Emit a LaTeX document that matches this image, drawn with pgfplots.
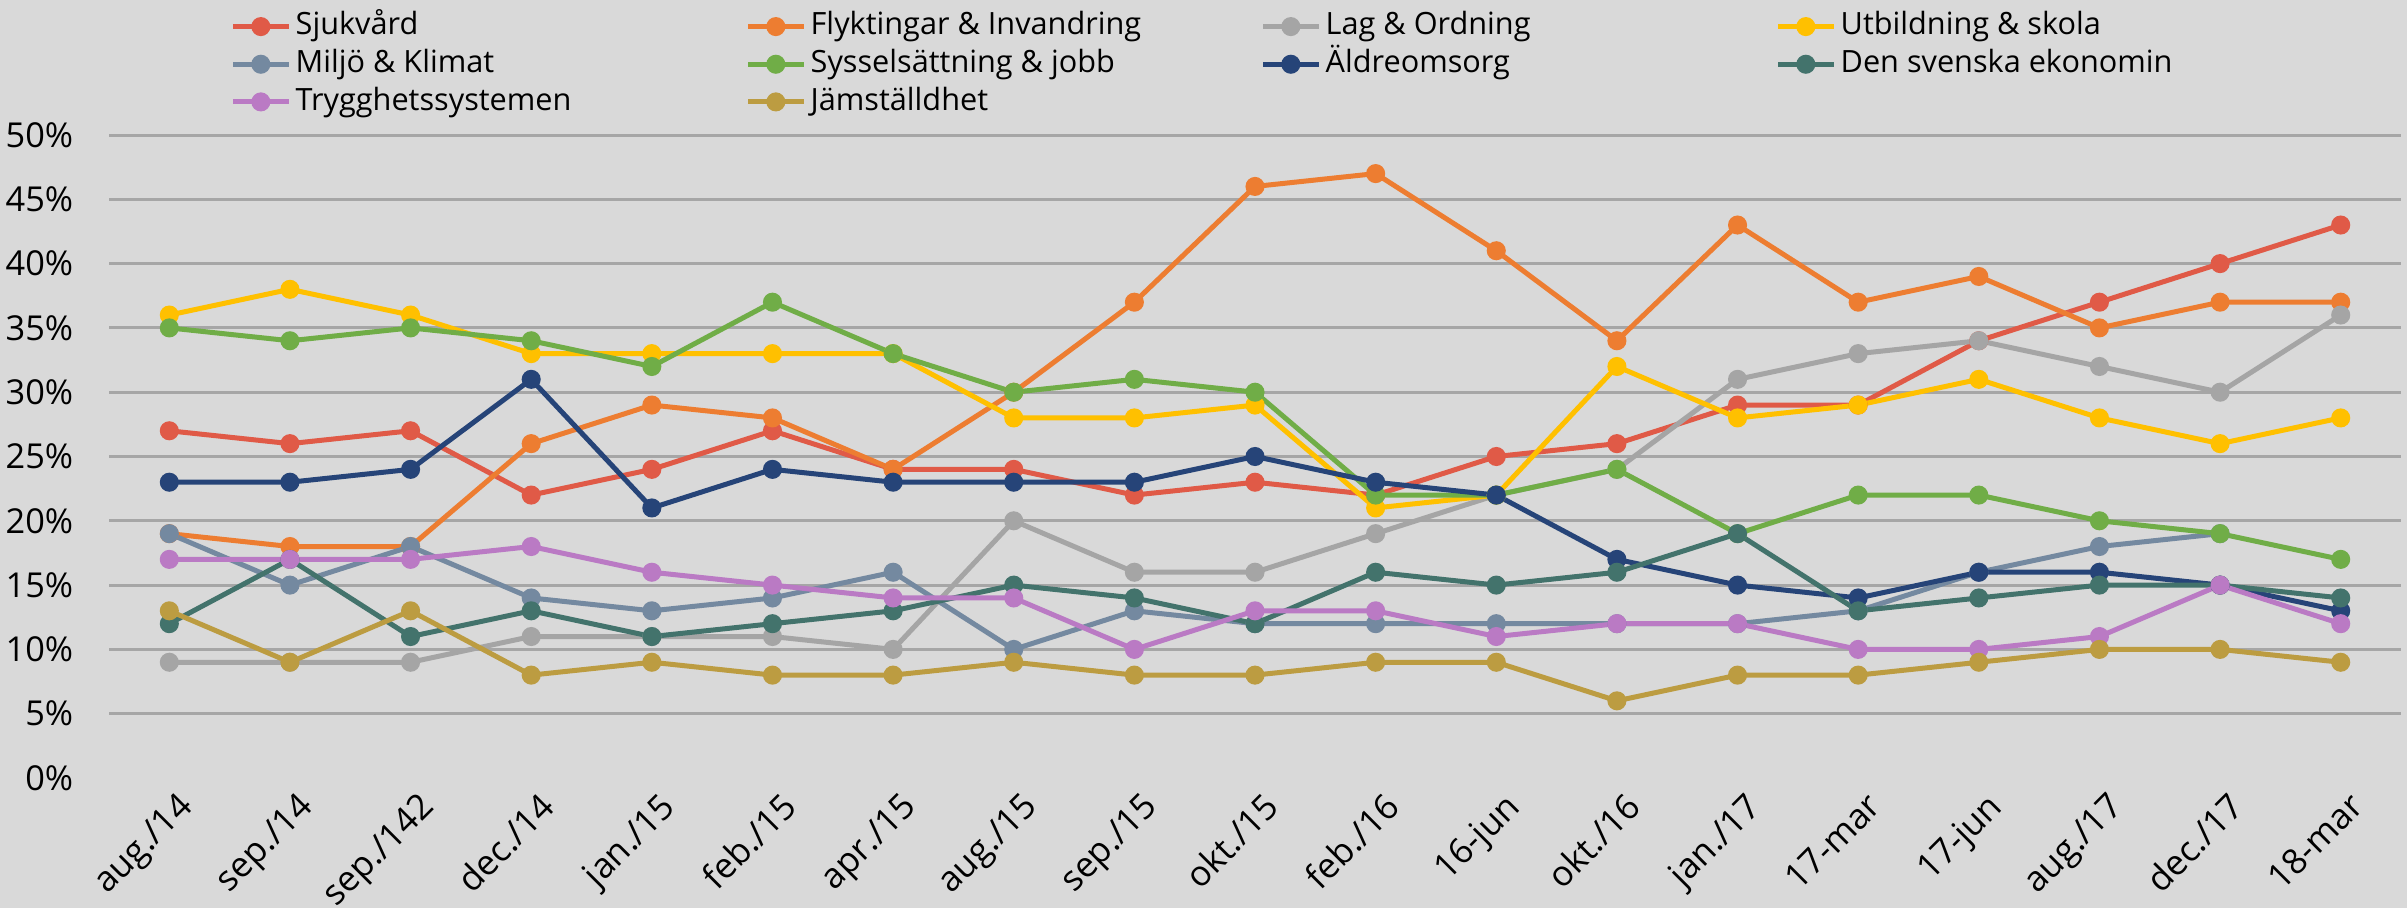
\documentclass[border=0pt]{standalone}
\usepackage{fontspec}
\setmainfont{Open Sans}
\usepackage{pgfplots}
\pgfplotsset{compat=1.18}
\usepackage{pgfplotstable}
\definecolor{bg}{HTML}{D9D9D9}
\definecolor{gridc}{HTML}{A6A6A6}
\definecolor{cSj}{HTML}{E05A47}
\definecolor{cFl}{HTML}{ED7D31}
\definecolor{cLag}{HTML}{A5A5A5}
\definecolor{cUtb}{HTML}{FFC000}
\definecolor{cMil}{HTML}{7489A0}
\definecolor{cSys}{HTML}{70AD47}
\definecolor{cAld}{HTML}{264478}
\definecolor{cEko}{HTML}{43736C}
\definecolor{cTry}{HTML}{BA7AC4}
\definecolor{cJam}{HTML}{BC9C41}
\pgfplotstableread{
x sj fl lag utb mil sys ald eko try jam
0 27 19 9 36 19 35 23 12 17 13
1 26 18 9 38 15 34 23 17 17 9
2 27 18 9 36 18 35 24 11 17 13
3 22 26 11 33 14 34 31 13 18 8
4 24 29 11 33 13 32 21 11 16 9
5 27 28 11 33 14 37 24 12 15 8
6 24 24 10 33 16 33 23 13 14 8
7 24 30 20 28 10 30 23 15 14 9
8 22 37 16 28 13 31 23 14 10 8
9 23 46 16 29 12 30 25 12 13 8
10 22 47 19 21 12 22 23 16 13 9
11 25 41 22 22 12 22 22 15 11 9
12 26 34 24 32 12 24 17 16 12 6
13 29 43 31 28 12 19 15 19 12 8
14 29 37 33 29 13 22 14 13 10 8
15 34 39 34 31 16 22 16 14 10 9
16 37 35 32 28 18 20 16 15 11 10
17 40 37 30 26 19 19 15 15 15 10
18 43 37 36 28 nan 17 13 14 12 9
}\data
\newcommand{\legtxt}[1]{\makebox[135pt][l]{#1}}
\begin{document}
\begin{tikzpicture}[x=1pt,y=1pt]
\fill[bg] (0,0) rectangle (722.1,272.4);
\path[use as bounding box] (0,0) rectangle (722.1,272.4);
\begin{axis}[
  at={(32.7pt,39pt)}, anchor=south west,
  scale only axis, width=687.6pt, height=192.9pt,
  xmin=-0.5, xmax=18.5, ymin=0, ymax=50,
  axis line style={draw=none},
  major tick length=0pt,
  xtick={0,...,18},
  xticklabels={aug./14,sep./14,sep./142,dec./14,jan./15,feb./15,apr./15,aug./15,sep./15,okt./15,feb./16,16-jun,okt./16,jan./17,17-mar,17-jun,aug./17,dec./17,18-mar},
  xticklabel style={rotate=45, anchor=north east, inner sep=1pt, yshift=-3pt, font=\fontsize{10.5}{12}\selectfont},
  ytick={0,5,...,50},
  yticklabel={\pgfmathprintnumber{\tick}\%},
  /pgf/number format/assume math mode=true,
  yticklabel style={font=\fontsize{10.3}{12}\selectfont, xshift=-7.2pt},
  extra y ticks={5,10,...,50}, extra y tick labels={},
  extra y tick style={grid=major, major grid style={gridc, line width=0.9pt}},
  every axis plot/.append style={line width=1.5pt, mark=*, mark size=2.1pt},
  legend columns=4,
  legend cell align=left,
  legend image code/.code={\draw[mark repeat=2,mark phase=2] plot coordinates {(0pt,0pt) (8.3pt,0pt) (16.6pt,0pt)};},
  legend style={draw=none, fill=none, inner sep=0pt,
    at={(axis description cs:0.0528,1.193)}, anchor=north west,
    font=\fontsize{9.2}{11}\selectfont, row sep=2.3pt,
    nodes={inner xsep=0pt, inner ysep=0pt, text height=7pt, text depth=2pt},
    /tikz/every odd column/.append style={column sep=1.4pt},
    /tikz/every even column/.append style={column sep=0pt}},
]
\addplot[cSj, mark options={fill=cSj}] table[x=x,y=sj]{\data}; \addlegendentry{\legtxt{Sjukvård}}
\addplot[cFl, mark options={fill=cFl}] table[x=x,y=fl]{\data}; \addlegendentry{\legtxt{Flyktingar \& Invandring}}
\addplot[cLag, mark options={fill=cLag}] table[x=x,y=lag]{\data}; \addlegendentry{\legtxt{Lag \& Ordning}}
\addplot[cUtb, mark options={fill=cUtb}] table[x=x,y=utb]{\data}; \addlegendentry{\legtxt{Utbildning \& skola}}
\addplot[cMil, mark options={fill=cMil}] table[x=x,y=mil]{\data}; \addlegendentry{\legtxt{Miljö \& Klimat}}
\addplot[cSys, mark options={fill=cSys}] table[x=x,y=sys]{\data}; \addlegendentry{\legtxt{Sysselsättning \& jobb}}
\addplot[cAld, mark options={fill=cAld}] table[x=x,y=ald]{\data}; \addlegendentry{\legtxt{Äldreomsorg}}
\addplot[cEko, mark options={fill=cEko}] table[x=x,y=eko]{\data}; \addlegendentry{\legtxt{Den svenska ekonomin}}
\addplot[cTry, mark options={fill=cTry}] table[x=x,y=try]{\data}; \addlegendentry{\legtxt{Trygghetssystemen}}
\addplot[cJam, mark options={fill=cJam}] table[x=x,y=jam]{\data}; \addlegendentry{\legtxt{Jämställdhet}}
\end{axis}
\end{tikzpicture}
\end{document}
